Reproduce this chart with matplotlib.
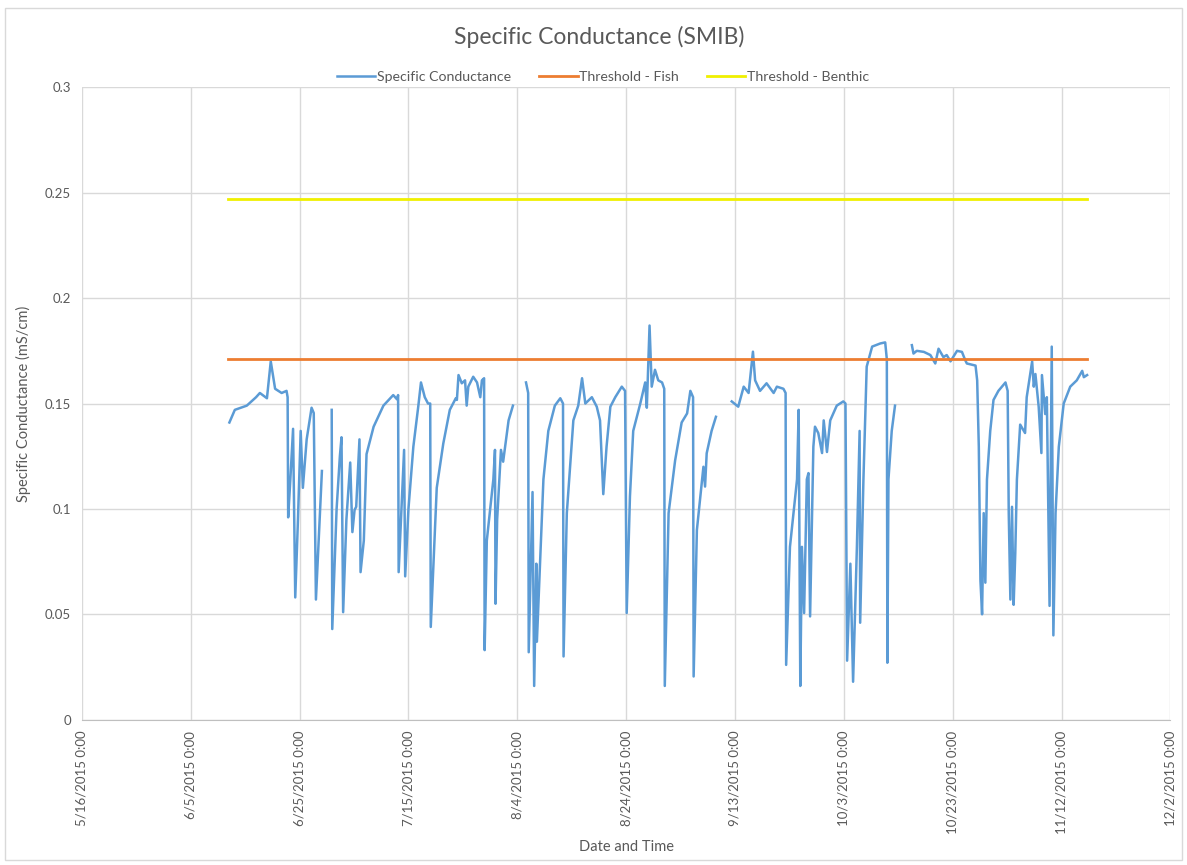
import datetime as dt
import numpy as np
import matplotlib
matplotlib.use("Agg")
import matplotlib.pyplot as plt
import matplotlib.dates as mdates
from matplotlib.patches import Rectangle

# x values are days after 5/16/2015 0:00; nan = gap in record
start = dt.datetime(2015, 5, 16)
days = [
    27.1, 28.1, 30.3, 32.0, 32.7, 34.0, 34.7, 35.5, 36.7, 37.6, 37.8, 37.9, 38.3, 38.8,
    39.2, 39.7, 40.2, 40.6, 41.3, 42.2, 42.6, 43.0, 44.1, 44.6,
    45.9, 46.0, 46.8, 47.4, 47.7, 48.0, 48.6, 49.3, 49.7, 50.1, 50.4, 51.0, 51.2, 51.8,
    52.3, 53.6, 55.4, 57.2, 57.9, 58.1, 58.2, 58.8, 59.2, 59.4, 60.0, 60.9, 61.8, 62.3,
    63.0, 63.6, 64.0, 64.1, 65.2, 66.4, 67.6, 68.7, 68.9, 69.2, 69.8, 70.4, 70.7, 71.0,
    71.9, 72.6, 73.2, 73.5, 73.9, 74.0, 74.4, 75.6, 75.9, 76.0, 76.3, 77.0, 77.4, 78.4,
    79.2, 80.4,
    81.6, 82.0, 82.1, 82.8, 83.1, 83.5, 83.6, 84.8, 85.7, 86.9, 87.9, 88.4, 88.5, 89.1,
    90.3, 91.2, 91.9, 92.5, 93.7, 94.6, 95.2, 95.8, 96.4, 97.1, 98.0, 99.2, 99.8, 100.1,
    100.7, 101.3, 102.6, 103.5, 103.8, 104.3, 104.7, 105.3, 105.9, 106.6, 107.0, 107.1,
    107.8, 109.0, 110.2, 111.2, 111.8, 112.3, 112.4, 113.0, 114.2, 114.5, 114.8, 115.7,
    116.5, 118.0,
    119.4, 120.6, 121.6, 122.5, 123.3, 123.7, 124.6, 125.8, 127.1, 127.7, 128.9, 129.3,
    129.4, 130.1, 131.4, 131.7, 132.0, 132.3, 132.7, 133.2, 133.5, 133.8, 134.4, 134.7,
    135.3, 136.0, 136.3, 136.9, 137.5, 138.7, 139.9, 140.3, 140.6, 141.2, 141.7, 142.4,
    142.9, 143.0, 143.6, 144.2, 145.2, 146.7, 147.6, 147.9, 148.0, 148.2, 148.8, 149.4,
    151.0,
    152.5, 152.8, 153.4, 154.7, 155.9, 156.8, 157.4, 158.3, 158.9, 159.6, 160.8, 161.7,
    162.3, 162.6, 164.2, 164.5, 164.8, 165.1, 165.4, 165.7, 166.0, 166.3, 166.9, 167.5,
    168.4, 169.7, 170.1, 170.3, 170.6, 170.9, 171.2, 171.5, 171.8, 172.4, 173.3, 173.6,
    174.6, 174.9, 175.2, 175.8, 176.3, 176.4, 177.0, 177.3, 177.8, 178.2, 178.5, 178.9,
    179.5, 180.4, 181.6, 182.8, 183.8, 184.1, 184.7,
]
cond = [
    0.141, 0.147, 0.149, 0.153, 0.155, 0.1525, 0.170, 0.157, 0.155, 0.156, 0.153, 0.096, 0.114, 0.138,
    0.058, 0.095, 0.137, 0.110, 0.133, 0.148, 0.1455, 0.057, 0.118, np.nan,
    0.147, 0.043, 0.100, 0.125, 0.134, 0.051, 0.095, 0.122, 0.089, 0.0995, 0.101, 0.133, 0.070, 0.085,
    0.126, 0.139, 0.149, 0.154, 0.152, 0.154, 0.070, 0.105, 0.128, 0.068, 0.100, 0.1295, 0.1485, 0.160,
    0.153, 0.150, 0.150, 0.044, 0.110, 0.131, 0.147, 0.1525, 0.1517, 0.1635, 0.1596, 0.161, 0.149, 0.158,
    0.1627, 0.160, 0.153, 0.161, 0.162, 0.033, 0.085, 0.114, 0.128, 0.055, 0.095, 0.128, 0.1224, 0.142,
    0.149, np.nan,
    0.160, 0.155, 0.032, 0.108, 0.016, 0.074, 0.037, 0.114, 0.137, 0.149, 0.1525, 0.150, 0.030, 0.098,
    0.142, 0.149, 0.162, 0.150, 0.153, 0.1485, 0.142, 0.107, 0.1295, 0.1485, 0.153, 0.158, 0.156, 0.0506,
    0.106, 0.137, 0.150, 0.160, 0.148, 0.187, 0.158, 0.166, 0.161, 0.160, 0.157, 0.016,
    0.098, 0.123, 0.141, 0.1453, 0.156, 0.153, 0.0205, 0.090, 0.120, 0.1106, 0.1264, 0.137,
    0.1437, np.nan,
    0.151, 0.1485, 0.158, 0.155, 0.1746, 0.161, 0.156, 0.1596, 0.155, 0.158, 0.157, 0.155,
    0.026, 0.082, 0.114, 0.147, 0.016, 0.082, 0.0506, 0.114, 0.117, 0.049, 0.1295, 0.139,
    0.136, 0.1265, 0.142, 0.127, 0.142, 0.149, 0.151, 0.150, 0.028, 0.074, 0.018, 0.082,
    0.137, 0.046, 0.114, 0.1675, 0.177, 0.1785, 0.179, 0.171, 0.027, 0.114, 0.137, 0.149,
    np.nan,
    0.1777, 0.1737, 0.175, 0.1745, 0.173, 0.169, 0.176, 0.172, 0.173, 0.170, 0.175, 0.1745,
    0.1706, 0.169, 0.168, 0.161, 0.1295, 0.066, 0.050, 0.098, 0.065, 0.114, 0.137, 0.1517,
    0.156, 0.160, 0.156, 0.098, 0.057, 0.101, 0.0545, 0.079, 0.114, 0.140, 0.136, 0.153,
    0.170, 0.158, 0.164, 0.1485, 0.1265, 0.1635, 0.145, 0.153, 0.054, 0.177, 0.040, 0.098,
    0.1295, 0.150, 0.158, 0.161, 0.1655, 0.1625, 0.1635,
]

thresh_days = [26.8, 184.7]
fish_threshold = 0.171
benthic_threshold = 0.247

tick_days = list(range(0, 201, 20))
y_ticks = [0, 0.05, 0.1, 0.15, 0.2, 0.25, 0.3]

t0 = mdates.date2num(start)
x = t0 + np.array(days)
xt = t0 + np.array(thresh_days)

plt.rcParams['font.family'] = ['Lato', 'DejaVu Sans']
grey = '#595959'

fig = plt.figure(figsize=(11.87, 8.65), dpi=100)
ax = fig.add_axes([0.069, 0.168, 0.917, 0.731])

ax.plot(x, cond, color='#5b9bd5', lw=1.8, label='Specific Conductance')
ax.plot(xt, [fish_threshold] * 2, color='#ed7d31', lw=2.0, label='Threshold - Fish')
ax.plot(xt, [benthic_threshold] * 2, color='#f0f000', lw=2.0, label='Threshold - Benthic')

ax.set_xlim(t0, t0 + 200)
ax.set_ylim(0, 0.3)
ax.set_xticks([t0 + d for d in tick_days])
labels = []
for d in tick_days:
    dd = start + dt.timedelta(days=d)
    labels.append(f"{dd.month}/{dd.day}/{dd.year} 0:00")
ax.set_xticklabels(labels, rotation=90, fontsize=9.5, color=grey)
ax.set_yticks(y_ticks)
ax.set_yticklabels([f"{v:g}" for v in y_ticks], fontsize=9.5, color=grey)
ax.tick_params(length=0, pad=8)

ax.grid(True, color='#d9d9d9', lw=1)
ax.set_axisbelow(True)
for s in ['top', 'right', 'left']:
    ax.spines[s].set_visible(False)
ax.spines['bottom'].set_color('#bfbfbf')

ax.set_xlabel('Date and Time', fontsize=10.5, color=grey, labelpad=4)
ax.set_ylabel('Specific Conductance (mS/cm)', fontsize=10.5, color=grey, labelpad=10)
fig.text(0.505, 0.957, 'Specific Conductance (SMIB)', ha='center', va='center',
         fontsize=16.5, color=grey)
leg = fig.legend(loc='center', bbox_to_anchor=(0.508, 0.911), ncol=3, frameon=False,
                 fontsize=10.2, handlelength=2.7, handletextpad=0.1, columnspacing=2.0)
for t in leg.get_texts():
    t.set_color(grey)

fig.patches.append(Rectangle((0.004, 0.006), 0.992, 0.985, transform=fig.transFigure,
                             fill=False, edgecolor='#d9d9d9', lw=1))

fig.savefig('out.png', dpi=100)
